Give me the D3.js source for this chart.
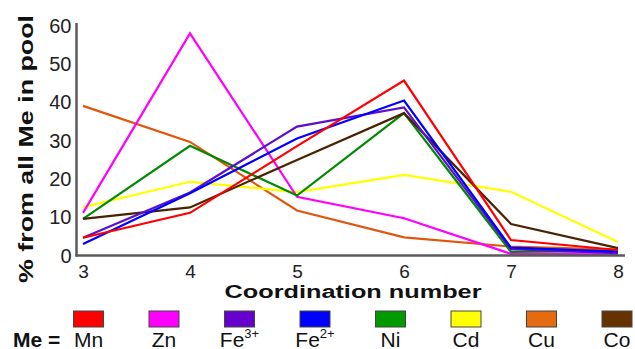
<!DOCTYPE html>
<html><head><meta charset="utf-8">
<script src="https://cdn.jsdelivr.net/npm/d3@7"></script>
<style>body{margin:0;background:#fff}svg{display:block}svg text{font-family:'Liberation Sans',Arial,sans-serif}</style>
</head><body><svg id="c" width="635" height="349"></svg>
<script>
const xValues = [3, 4, 5, 6, 7, 8];
const yTicks = [0, 10, 20, 30, 40, 50, 60];
const seriesNames = ["Cu", "Cd", "Zn", "Ni", "Co", "Fe3+", "Fe2+", "Mn"];
const Mn   = [4.5, 11, 28.4, 45.5, 3.9, 1.3];
const Zn   = [11, 57.8, 15.2, 9.6, 0.3, 0.2];
const Fe3  = [4.5, 16.3, 33.5, 38.5, 1.5, 0.5];
const Fe2  = [2.9, 16.1, 30.4, 40.3, 1.9, 0.9];
const Ni   = [9.4, 28.5, 15.5, 37, 0.8, 1.0];
const Cd   = [12.5, 19.1, 16.4, 20.9, 16.5, 3.4];
const Cu   = [38.9, 29.5, 11.6, 4.6, 2.2, 1.4];
const Co   = [9.4, 12.4, 24.8, 37, 8.1, 1.8];
const legendOrder = ["Mn", "Zn", "Fe3+", "Fe2+", "Ni", "Cd", "Cu", "Co"];

const values = {Mn, Zn, "Fe3+": Fe3, "Fe2+": Fe2, Ni, Cd, Cu, Co};
const lineColor = {Mn:"#ff0000", Zn:"#ff00ff", "Fe3+":"#5c10cc", "Fe2+":"#0000ff", Ni:"#008a00", Cd:"#ffff00", Cu:"#e0560c", Co:"#4a2200"};
const boxColor = {Mn:"#ff0000", Zn:"#ff00ff", "Fe3+":"#6600cc", "Fe2+":"#0000ff", Ni:"#009900", Cd:"#ffff00", Cu:"#e66a10", Co:"#663300"};
const FF = "'Liberation Sans', Arial, sans-serif";

const svg = d3.select("#c");
const x = d3.scaleLinear().domain([3, 8]).range([83, 618]);
const y = d3.scaleLinear().domain([0, 60]).range([255, 25]);

// lines
const line = d3.line().x((d,i)=>x(xValues[i])).y(d=>y(d));
seriesNames.forEach(n=>{
  svg.append("path").attr("d", line(values[n])).attr("fill","none")
    .attr("stroke", lineColor[n]).attr("stroke-width", 2.2).attr("stroke-linejoin","miter");
});

// axes
const yAxis = d3.axisLeft(y).tickValues(yTicks).tickSize(0).tickPadding(5).tickFormat(d3.format("d"));
const gy = svg.append("g").attr("transform","translate(76.5,0)").call(yAxis).attr("font-family",FF);
gy.select(".domain").attr("d","M0,23V256.5").attr("stroke","#5a5a5a").attr("stroke-width",2.5);
gy.selectAll("text").attr("font-size",20).attr("fill","#222").attr("dy","0.36em");

const xAxis = d3.axisBottom(x).tickValues(xValues).tickSize(0).tickPadding(0).tickFormat(d3.format("d"));
const gx = svg.append("g").attr("transform","translate(0,255.5)").call(xAxis).attr("font-family",FF);
gx.select(".domain").attr("d","M75.5,0H625").attr("stroke","#5a5a5a").attr("stroke-width",2.5);
gx.selectAll("text").attr("font-size",19).attr("fill","#222").attr("dy",null).attr("y",22);

// titles
svg.append("text").attr("x",353).attr("y",298).attr("text-anchor","middle").attr("font-family",FF)
  .attr("font-size",18).attr("font-weight","bold").attr("fill","#111")
  .attr("textLength",257).attr("lengthAdjust","spacingAndGlyphs").text("Coordination number");
svg.append("text").attr("transform","translate(33,149) rotate(-90)").attr("text-anchor","middle").attr("font-family",FF)
  .attr("font-size",21).attr("font-weight","bold").attr("fill","#111")
  .attr("textLength",268).attr("lengthAdjust","spacingAndGlyphs").text("% from all Me in pool");

// legend
const lx = d3.scalePoint().domain(legendOrder).range([88.5, 617]);
svg.append("text").attr("x",13).attr("y",346.5).attr("font-family",FF).attr("font-size",21).attr("font-weight","bold").attr("fill","#111").text("Me =");
legendOrder.forEach(n=>{
  const cx = lx(n);
  svg.append("rect").attr("x",cx-15).attr("y",311).attr("width",30).attr("height",16)
    .attr("fill",boxColor[n]).attr("stroke","#444").attr("stroke-width",1);
  const t = svg.append("text").attr("x",cx).attr("y",346.5).attr("text-anchor","middle").attr("font-family",FF)
    .attr("font-size",21).attr("fill","#111");
  if (n.startsWith("Fe")) {
    t.append("tspan").text("Fe");
    t.append("tspan").attr("font-size",13).attr("dy",-9).text(n.slice(2));
  } else t.text(n);
});
</script></body></html>
